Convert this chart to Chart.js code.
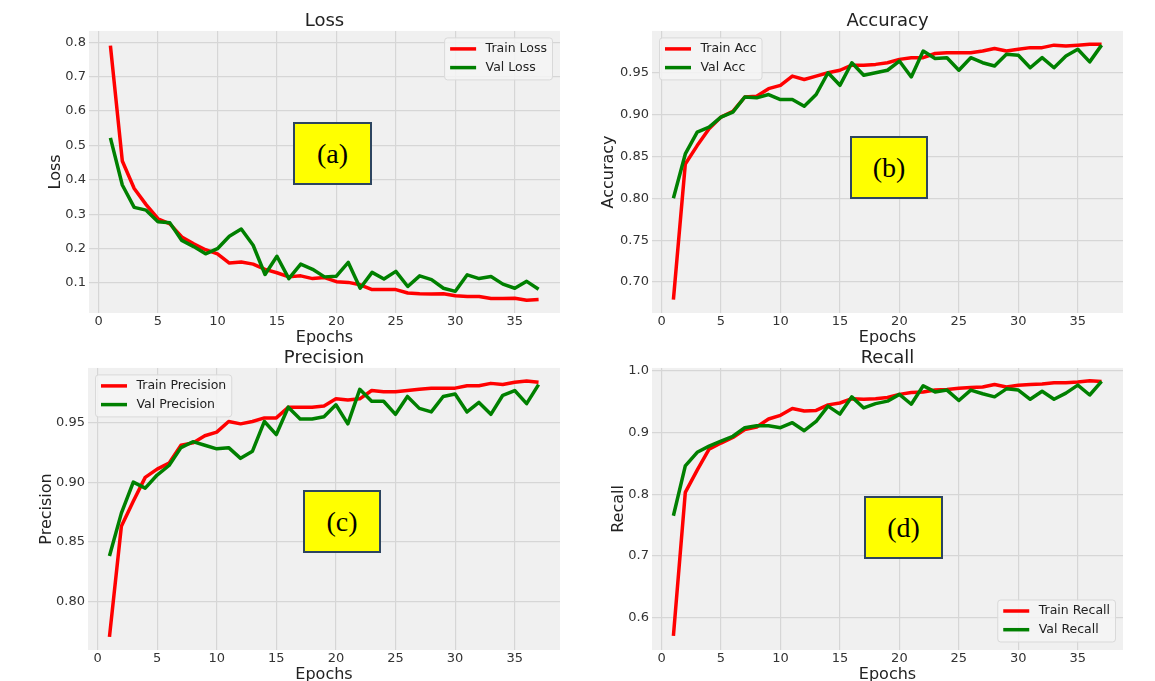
<!DOCTYPE html>
<html>
<head>
<meta charset="utf-8">
<title>Training curves</title>
<script src="https://cdn.jsdelivr.net/npm/chart.js@4.4.1/dist/chart.umd.min.js"></script>
<style>
  html, body { margin: 0; padding: 0; background: #fff; }
  body { width: 1155px; height: 681px; position: relative; overflow: hidden; }
  canvas { position: absolute; }
  .tag {
    position: absolute; box-sizing: border-box; height: 63px;
    background: #ffff00; border: 2px solid #2d4560;
    font-family: "Liberation Serif", "Times New Roman", serif; font-size: 28px; color: #000;
    display: flex; align-items: center; justify-content: center;
  }
</style>
</head>
<body>
<canvas id="lossChart" width="540" height="347" style="left:40px;top:0px"></canvas>
<canvas id="accChart" width="545" height="347" style="left:595px;top:0px"></canvas>
<canvas id="precChart" width="550" height="344" style="left:30px;top:340px"></canvas>
<canvas id="recallChart" width="545" height="344" style="left:595px;top:340px"></canvas>

<div class="tag" style="left:293px;top:122px;width:79px">(a)</div>
<div class="tag" style="left:850px;top:136px;width:78px">(b)</div>
<div class="tag" style="left:303px;top:490px;width:78px">(c)</div>
<div class="tag" style="left:864px;top:496px;width:79px">(d)</div>

<script>
const epochs = [1, 2, 3, 4, 5, 6, 7, 8, 9, 10, 11, 12, 13, 14, 15, 16, 17, 18, 19, 20,
  21, 22, 23, 24, 25, 26, 27, 28, 29, 30, 31, 32, 33, 34, 35, 36, 37];
const epochTicks = [0, 5, 10, 15, 20, 25, 30, 35];

const trainLoss = [0.79, 0.455, 0.375, 0.328, 0.287, 0.272, 0.234, 0.214, 0.197, 0.185,
  0.158, 0.161, 0.155, 0.14, 0.13, 0.118, 0.121, 0.113, 0.116, 0.104,
  0.102, 0.095, 0.081, 0.081, 0.081, 0.071, 0.069, 0.068, 0.069, 0.063,
  0.061, 0.061, 0.055, 0.055, 0.056, 0.05, 0.052];
const valLoss = [0.522, 0.385, 0.32, 0.312, 0.278, 0.275, 0.224, 0.206, 0.185, 0.2,
  0.236, 0.257, 0.21, 0.125, 0.178, 0.113, 0.155, 0.14, 0.118, 0.12,
  0.16, 0.085, 0.131, 0.112, 0.134, 0.09, 0.121, 0.11, 0.085, 0.076,
  0.124, 0.113, 0.119, 0.097, 0.085, 0.105, 0.082];
const lossTicks = [0.1, 0.2, 0.3, 0.4, 0.5, 0.6, 0.7, 0.8];

const trainAcc = [0.679, 0.841, 0.863, 0.883, 0.897, 0.904, 0.921, 0.922, 0.931, 0.935,
  0.946, 0.942, 0.946, 0.95, 0.953, 0.959, 0.959, 0.96, 0.962, 0.966,
  0.968, 0.968, 0.973, 0.974, 0.974, 0.974, 0.976, 0.979, 0.976, 0.978,
  0.98, 0.98, 0.983, 0.982, 0.983, 0.984, 0.984];
const valAcc = [0.80, 0.853, 0.879, 0.885, 0.897, 0.903, 0.921, 0.92, 0.924, 0.918,
  0.918, 0.91, 0.924, 0.95, 0.935, 0.962, 0.947, 0.95, 0.953, 0.964,
  0.945, 0.976, 0.967, 0.968, 0.953, 0.968, 0.962, 0.958, 0.972, 0.971,
  0.956, 0.968, 0.956, 0.97, 0.978, 0.963, 0.983];
const accTicks = [0.70, 0.75, 0.80, 0.85, 0.90, 0.95];

const trainPrec = [0.77, 0.863, 0.884, 0.904, 0.911, 0.916, 0.931, 0.933, 0.939, 0.942,
  0.951, 0.949, 0.951, 0.954, 0.954, 0.963, 0.963, 0.963, 0.964, 0.97,
  0.969, 0.97, 0.977, 0.976, 0.976, 0.977, 0.978, 0.979, 0.979, 0.979,
  0.981, 0.981, 0.983, 0.982, 0.984, 0.985, 0.984];
const valPrec = [0.838, 0.874, 0.90, 0.895, 0.906, 0.914, 0.929, 0.934, 0.931, 0.928,
  0.929, 0.92, 0.926, 0.951, 0.94, 0.963, 0.953, 0.953, 0.955, 0.965,
  0.949, 0.978, 0.968, 0.968, 0.957, 0.972, 0.962, 0.959, 0.972, 0.974,
  0.959, 0.967, 0.957, 0.973, 0.977, 0.966, 0.982];
const precTicks = [0.80, 0.85, 0.90, 0.95];

const trainRecall = [0.57, 0.803, 0.839, 0.873, 0.883, 0.892, 0.905, 0.909, 0.922, 0.928,
  0.939, 0.935, 0.936, 0.945, 0.948, 0.955, 0.954, 0.955, 0.957, 0.962,
  0.965, 0.966, 0.969, 0.97, 0.972, 0.973, 0.974, 0.978, 0.974, 0.977,
  0.978, 0.979, 0.981, 0.981, 0.982, 0.984, 0.983];
const valRecall = [0.765, 0.846, 0.868, 0.878, 0.886, 0.894, 0.908, 0.911, 0.911, 0.908,
  0.916, 0.903, 0.918, 0.943, 0.93, 0.958, 0.94, 0.947, 0.951, 0.962,
  0.946, 0.976, 0.966, 0.969, 0.952, 0.969, 0.963, 0.958, 0.971, 0.969,
  0.954, 0.967, 0.954, 0.964, 0.977, 0.961, 0.983];
const recallTicks = [0.6, 0.7, 0.8, 0.9, 1.0];

const FONT = '"DejaVu Sans", sans-serif';

/* grey plot area, like the fivethirtyeight style */
const plotBackground = {
  id: 'plotBackground',
  beforeDraw(chart) {
    const a = chart.chartArea, ctx = chart.ctx;
    ctx.save();
    ctx.fillStyle = '#f0f0f0';
    ctx.fillRect(a.left, a.top, a.right - a.left, a.bottom - a.top);
    ctx.restore();
  }
};

/* legend box drawn inside the plot area */
const boxLegend = {
  id: 'boxLegend',
  afterDatasetsDraw(chart, args, opts) {
    const a = chart.chartArea, ctx = chart.ctx;
    const sets = chart.data.datasets;
    ctx.save();
    ctx.font = '12.5px ' + FONT;
    let tw = 0;
    sets.forEach(d => { tw = Math.max(tw, ctx.measureText(d.label).width); });
    const w = 41 + tw + 5.5, h = 42;
    const x = opts.corner.indexOf('r') >= 0 ? a.right - 7.5 - w : a.left + 7.5;
    const y = opts.corner.indexOf('b') >= 0 ? a.bottom - 8 - h : a.top + 7;
    ctx.beginPath();
    ctx.roundRect(x, y, w, h, 3);
    ctx.fillStyle = 'rgba(244,244,244,0.85)';
    ctx.fill();
    ctx.strokeStyle = '#d9d9d9';
    ctx.lineWidth = 1;
    ctx.stroke();
    sets.forEach((d, i) => {
      const ly = y + 11 + i * 18.7;
      ctx.beginPath();
      ctx.moveTo(x + 5.5, ly);
      ctx.lineTo(x + 31.5, ly);
      ctx.strokeStyle = d.borderColor;
      ctx.lineWidth = 3.5;
      ctx.stroke();
      ctx.fillStyle = '#222';
      ctx.textBaseline = 'middle';
      ctx.textAlign = 'left';
      ctx.fillText(d.label, x + 41, ly);
    });
    ctx.restore();
  }
};

function points(values) {
  return values.map((v, i) => ({x: epochs[i], y: v}));
}

function drawPanel(p) {
  const ctx = document.getElementById(p.id).getContext('2d');
  new Chart(ctx, {
    type: 'line',
    data: {
      datasets: [
        {label: p.trainLabel, data: points(p.train), borderColor: '#ff0000', borderWidth: 3.5,
         pointRadius: 0, tension: 0, fill: false, borderJoinStyle: 'round', order: 1},
        {label: p.valLabel, data: points(p.val), borderColor: '#008000', borderWidth: 3.5,
         pointRadius: 0, tension: 0, fill: false, borderJoinStyle: 'round', order: 0}
      ]
    },
    options: {
      responsive: false,
      animation: false,
      devicePixelRatio: 1,
      events: [],
      layout: {autoPadding: false, padding: {top: p.padTop, right: p.padRight, bottom: 0, left: 0}},
      scales: {
        x: {
          type: 'linear', min: -0.8, max: 38.8,
          afterBuildTicks: s => { s.ticks = epochTicks.map(v => ({value: v})); },
          afterFit: s => { s.height = 34; },
          grid: {color: '#d6d6d6', lineWidth: 1.2, drawTicks: false},
          border: {display: false},
          ticks: {padding: 1, color: '#333', font: {family: FONT, size: 13}, maxRotation: 0,
                  autoSkip: false, callback: v => String(v)},
          title: {display: true, text: 'Epochs', color: '#222', font: {family: FONT, size: 16},
                  padding: {top: 0, bottom: 0}}
        },
        y: {
          type: 'linear', min: p.yMin, max: p.yMax,
          afterBuildTicks: s => { s.ticks = p.yTicks.map(v => ({value: v})); },
          afterFit: s => { s.width = p.yWidth; },
          grid: {color: '#d6d6d6', lineWidth: 1.2, drawTicks: false},
          border: {display: false},
          ticks: {padding: 3, color: '#333', font: {family: FONT, size: 13},
                  autoSkip: false, callback: v => v.toFixed(p.decimals)},
          title: {display: true, text: p.yTitle, color: '#222', font: {family: FONT, size: 16},
                  padding: {top: p.yTitlePad, bottom: 0}}
        }
      },
      plugins: {
        legend: {display: false},
        tooltip: {enabled: false},
        title: {display: true, text: p.title, fullSize: false, color: '#222',
                font: {family: FONT, size: 18, weight: 'normal', lineHeight: 1.1}, padding: 0},
        boxLegend: {corner: p.corner}
      }
    },
    plugins: [plotBackground, boxLegend]
  });
}

window.onload = function () {
  drawPanel({id: 'lossChart', title: 'Loss', yTitle: 'Loss',
    train: trainLoss, val: valLoss, trainLabel: 'Train Loss', valLabel: 'Val Loss',
    yMin: 0.013, yMax: 0.833, yTicks: lossTicks, decimals: 1,
    yWidth: 49, yTitlePad: 6.4, padTop: 11.1, padRight: 20, corner: 'tr'});
  drawPanel({id: 'accChart', title: 'Accuracy', yTitle: 'Accuracy',
    train: trainAcc, val: valAcc, trainLabel: 'Train Acc', valLabel: 'Val Acc',
    yMin: 0.663, yMax: 1.0, yTicks: accTicks, decimals: 2,
    yWidth: 57, yTitlePad: 4.4, padTop: 11.1, padRight: 17, corner: 'tl'});
  drawPanel({id: 'precChart', title: 'Precision', yTitle: 'Precision',
    train: trainPrec, val: valPrec, trainLabel: 'Train Precision', valLabel: 'Val Precision',
    yMin: 0.759, yMax: 0.996, yTicks: precTicks, decimals: 2,
    yWidth: 58, yTitlePad: 7.4, padTop: 8.1, padRight: 20, corner: 'tl'});
  drawPanel({id: 'recallChart', title: 'Recall', yTitle: 'Recall',
    train: trainRecall, val: valRecall, trainLabel: 'Train Recall', valLabel: 'Val Recall',
    yMin: 0.547, yMax: 1.005, yTicks: recallTicks, decimals: 1,
    yWidth: 57, yTitlePad: 13.9, padTop: 8.1, padRight: 17, corner: 'br'});
};
</script>
</body>
</html>
